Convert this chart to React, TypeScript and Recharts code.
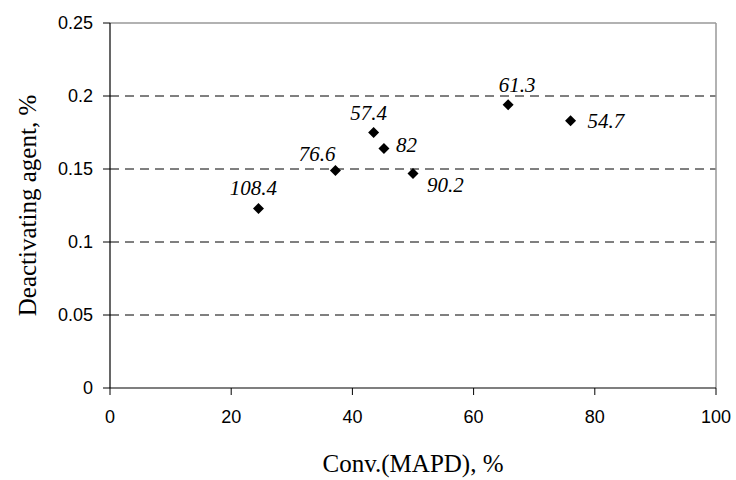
import React from "react";
import {
  ScatterChart,
  Scatter,
  XAxis,
  YAxis,
  CartesianGrid,
  ReferenceLine,
  Label,
} from "recharts";

// Conversion of MAPD, %
const convMAPD = [24.5, 37.2, 43.5, 45.2, 50.0, 65.7, 76.0];
// Deactivating agent, %
const deactivatingAgent = [0.123, 0.149, 0.175, 0.164, 0.147, 0.194, 0.183];
// Point annotations
const pointLabels = ["108.4", "76.6", "57.4", "82", "90.2", "61.3", "54.7"];
const labelPlacement = ["above", "aboveLeft", "above", "right", "belowRight", "aboveRight", "farRight"];

const xTicks = [0, 20, 40, 60, 80, 100];
const yTicks = [0, 0.05, 0.1, 0.15, 0.2, 0.25];
const gridValues = [0.05, 0.1, 0.15, 0.2];

const points = convMAPD.map((x, i) => ({
  x,
  y: deactivatingAgent[i],
  label: pointLabels[i],
  place: labelPlacement[i],
}));

const placements: Record<string, { anchor: "start" | "middle" | "end"; dx: number; dy: number }> = {
  above: { anchor: "middle", dx: -5, dy: -13 },
  aboveRight: { anchor: "middle", dx: 9, dy: -13 },
  aboveLeft: { anchor: "end", dx: 0, dy: -9 },
  right: { anchor: "start", dx: 12, dy: 3 },
  farRight: { anchor: "start", dx: 17, dy: 7 },
  belowRight: { anchor: "start", dx: 14, dy: 19 },
};

const DiamondWithLabel = (props: any) => {
  const { cx, cy, payload } = props;
  if (cx == null || cy == null) return null;
  const r = 5.5;
  const p = placements[payload.place] || placements.above;
  return (
    <g>
      <polygon
        points={`${cx},${cy - r} ${cx + r},${cy} ${cx},${cy + r} ${cx - r},${cy}`}
        fill="#000"
      />
      <text
        x={cx + p.dx}
        y={cy + p.dy}
        textAnchor={p.anchor}
        fontFamily="'Liberation Serif', 'Times New Roman', serif"
        fontStyle="italic"
        fontSize={21}
        fill="#000"
      >
        {payload.label}
      </text>
    </g>
  );
};

const tickStyle = {
  fontFamily: "'Liberation Sans', Arial, sans-serif",
  fontSize: 18,
  fill: "#000",
};

export default function App() {
  return (
    <div style={{ position: "absolute", left: 0, top: 0, width: 736, height: 480, background: "#fff" }}>
      <ScatterChart
        width={736}
        height={480}
        margin={{ top: 23, right: 20, bottom: 0, left: 0 }}
      >
        <CartesianGrid
          horizontal={true}
          vertical={false}
          horizontalValues={gridValues}
          stroke="#000"
          strokeDasharray="9 6"
        />
        <ReferenceLine y={0.25} stroke="#999" strokeWidth={1.5} />
        <ReferenceLine x={100} stroke="#999" strokeWidth={1.5} />
        <XAxis
          type="number"
          dataKey="x"
          domain={[0, 100]}
          ticks={xTicks}
          height={92}
          tickSize={7}
          tickMargin={15}
          tick={tickStyle}
          axisLine={{ stroke: "#000", strokeWidth: 1.2 }}
          tickLine={{ stroke: "#000" }}
          interval={0}
        >
          <Label
            value="Conv.(MAPD), %"
            position="center"
            dy={29}
            style={{
              fontFamily: "'Liberation Serif', 'Times New Roman', serif",
              fontSize: 25,
              fill: "#000",
            }}
          />
        </XAxis>
        <YAxis
          type="number"
          dataKey="y"
          domain={[0, 0.25]}
          ticks={yTicks}
          width={110}
          tickSize={7}
          tickMargin={10}
          tick={tickStyle}
          axisLine={{ stroke: "#000", strokeWidth: 1.2 }}
          tickLine={{ stroke: "#000" }}
          interval={0}
        >
          <Label
            value="Deactivating agent, %"
            angle={-90}
            position="center"
            dx={-28}
            style={{
              fontFamily: "'Liberation Serif', 'Times New Roman', serif",
              fontSize: 25,
              fill: "#000",
              textAnchor: "middle",
            }}
          />
        </YAxis>
        <Scatter
          data={points}
          shape={DiamondWithLabel}
          isAnimationActive={false}
        />
      </ScatterChart>
    </div>
  );
}
